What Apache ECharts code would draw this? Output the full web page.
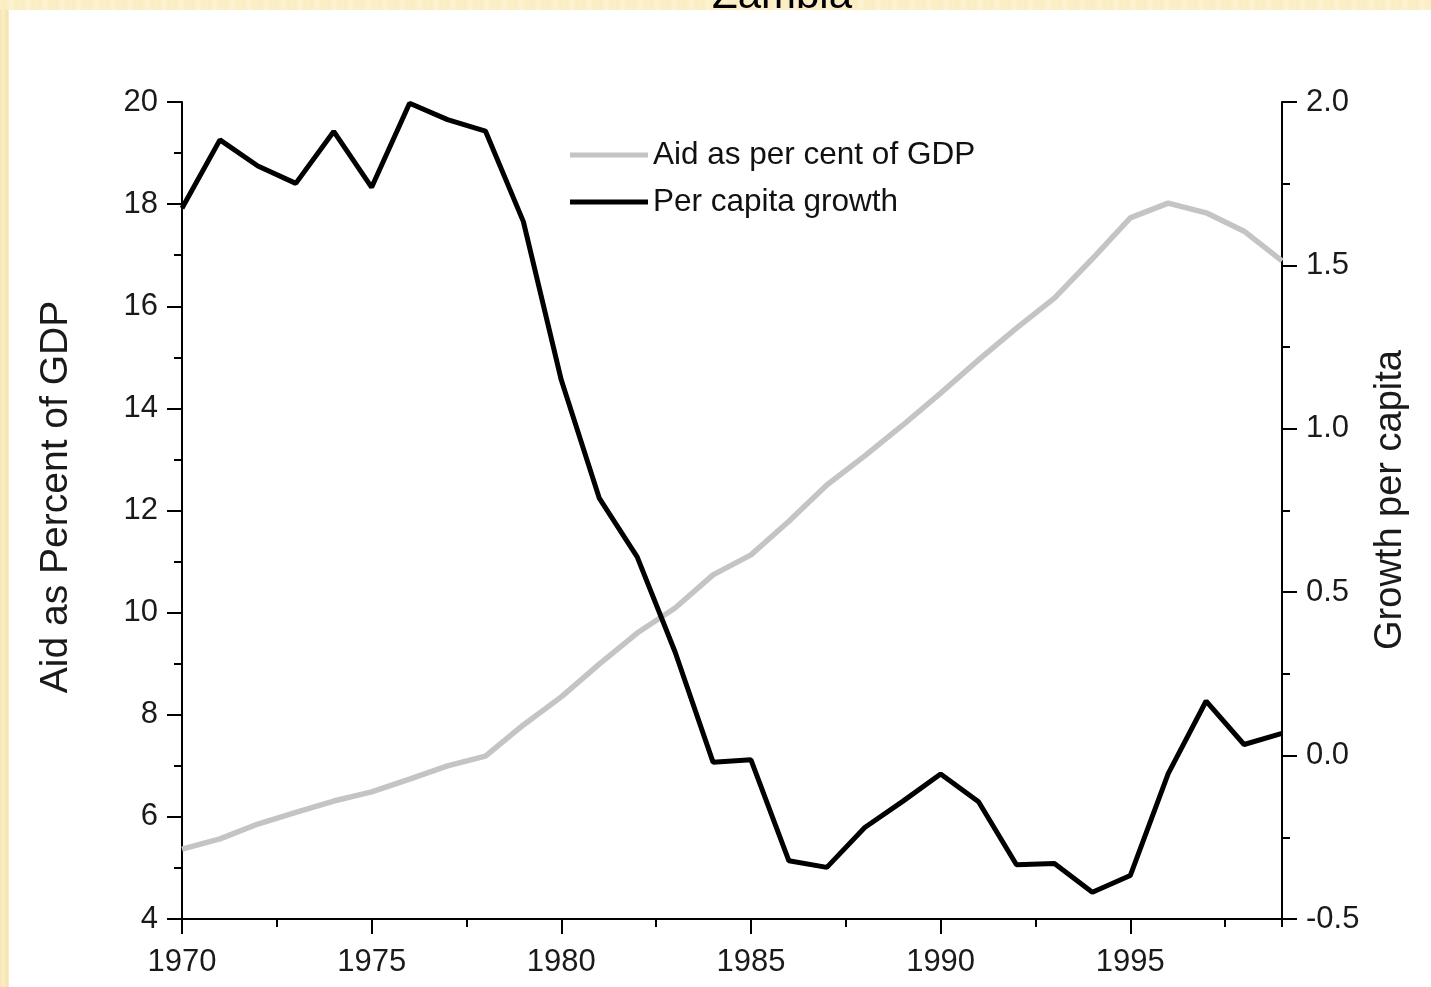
<!DOCTYPE html>
<html>
<head>
<meta charset="utf-8">
<script src="https://cdn.jsdelivr.net/npm/echarts@6/dist/echarts.min.js"></script>
<style>
  html, body { margin: 0; padding: 0; width: 1431px; height: 987px; overflow: hidden;
    background: linear-gradient(90deg, #f7e6b0 0px, #fbefc8 4px, #f5e2a8 7px, #fcf0cc 9px); }
  #bg { position: absolute; left: 9px; top: 10px; right: 0; bottom: 0; background: #ffffff; }
  #top { position: absolute; left: 0; top: 0; width: 1431px; height: 10px;
    background: repeating-linear-gradient(90deg, #fcefc8 0px, #fbedc2 6px, #fdf3d2 11px, #fbecc0 17px); }
  #chart { position: absolute; left: 0; top: 0; width: 1431px; height: 987px; }
</style>
</head>
<body>
<div id="top"></div>
<div id="bg"></div>
<div id="chart"></div>
<script>
const years = [1970,1971,1972,1973,1974,1975,1976,1977,1978,1979,1980,1981,1982,1983,1984,1985,1986,1987,1988,1989,1990,1991,1992,1993,1994,1995,1996,1997,1998,1999];
const aidPctGDP = [5.37,5.57,5.86,6.09,6.31,6.49,6.74,7.00,7.19,7.80,8.35,8.99,9.60,10.09,10.74,11.13,11.79,12.50,13.07,13.67,14.30,14.95,15.57,16.16,16.93,17.73,18.02,17.83,17.47,16.89];
const perCapitaGrowth = [1.675,1.884,1.804,1.751,1.910,1.739,1.996,1.946,1.911,1.634,1.149,0.788,0.608,0.317,-0.020,-0.013,-0.322,-0.342,-0.220,-0.140,-0.056,-0.141,-0.334,-0.330,-0.418,-0.367,-0.055,0.167,0.034,0.068];
const seriesNames = ['Aid as per cent of GDP', 'Per capita growth'];
const leftAxisName = 'Aid as Percent of GDP';
const rightAxisName = 'Growth per capita';
const titleText = 'Zambia';

const FONT = "'Liberation Sans', Arial, sans-serif";
const chart = echarts.init(document.getElementById('chart'));
const tickStyle = { color: '#000', width: 2 };
const labelStyle = { fontFamily: FONT, fontSize: 31, color: '#1a1a1a' };

chart.setOption({
  animation: false,
  backgroundColor: 'transparent',
  graphic: [{
    type: 'text', x: 782, y: 17, z: 100,
    style: { text: titleText, font: "42px 'Liberation Sans', Arial, sans-serif", fill: '#000',
      textAlign: 'center', textVerticalAlign: 'bottom' }
  }, {
    type: 'text', x: 56, y: 497, rotation: Math.PI / 2, z: 100,
    style: { text: leftAxisName, font: "39px 'Liberation Sans', Arial, sans-serif", fill: '#1a1a1a',
      textAlign: 'center', textVerticalAlign: 'middle' }
  }, {
    type: 'text', x: 1391, y: 500, rotation: Math.PI / 2, z: 100,
    style: { text: rightAxisName, font: "38px 'Liberation Sans', Arial, sans-serif", fill: '#1a1a1a',
      textAlign: 'center', textVerticalAlign: 'middle' }
  }],
  grid: { left: 182, right: 149, top: 102, bottom: 68, containLabel: false },
  legend: {
    left: 570, top: 139, orient: 'vertical', padding: 0,
    itemWidth: 78, itemHeight: 5, itemGap: 15, icon: 'rect',
    textStyle: { fontFamily: FONT, fontSize: 31.5, color: '#111', lineHeight: 30 },
    data: seriesNames
  },
  xAxis: [{
    type: 'value', min: 1970, max: 1999, interval: 5, position: 'bottom',
    axisLine: { onZero: false, lineStyle: tickStyle },
    axisTick: { length: 15, lineStyle: tickStyle },
    axisLabel: Object.assign({ margin: 28, showMaxLabel: false, formatter: v => String(v) }, labelStyle),
    splitLine: { show: false }
  }, {
    type: 'value', min: 1970, max: 1999, interval: 2.5, position: 'bottom',
    axisLine: { show: false, onZero: false },
    axisTick: { length: 8, lineStyle: tickStyle },
    axisLabel: { show: false },
    splitLine: { show: false }
  }],
  yAxis: [{
    type: 'value', min: 4, max: 20, interval: 2, position: 'left',
    axisLine: { show: true, onZero: false, lineStyle: tickStyle },
    axisTick: { show: true, length: 15, lineStyle: tickStyle },
    minorTick: { show: true, splitNumber: 2, length: 8, lineStyle: tickStyle },
    axisLabel: Object.assign({ margin: 24 }, labelStyle),
    splitLine: { show: false }
  }, {
    type: 'value', min: -0.5, max: 2.0, interval: 0.5, position: 'right',
    axisLine: { show: true, onZero: false, lineStyle: tickStyle },
    axisTick: { show: true, length: 15, lineStyle: tickStyle },
    minorTick: { show: true, splitNumber: 2, length: 8, lineStyle: tickStyle },
    axisLabel: Object.assign({ margin: 24, formatter: v => v.toFixed(1) }, labelStyle),
    splitLine: { show: false }
  }],
  series: [{
    name: seriesNames[0], type: 'line', xAxisIndex: 0, yAxisIndex: 0,
    symbol: 'none', z: 2,
    itemStyle: { color: '#c4c4c4' },
    lineStyle: { color: '#c4c4c4', width: 5.5 },
    data: years.map((y, i) => [y, aidPctGDP[i]])
  }, {
    name: seriesNames[1], type: 'line', xAxisIndex: 0, yAxisIndex: 1,
    symbol: 'none', z: 3,
    itemStyle: { color: '#000' },
    lineStyle: { color: '#000', width: 5 },
    data: years.map((y, i) => [y, perCapitaGrowth[i]])
  }]
});
</script>
</body>
</html>
